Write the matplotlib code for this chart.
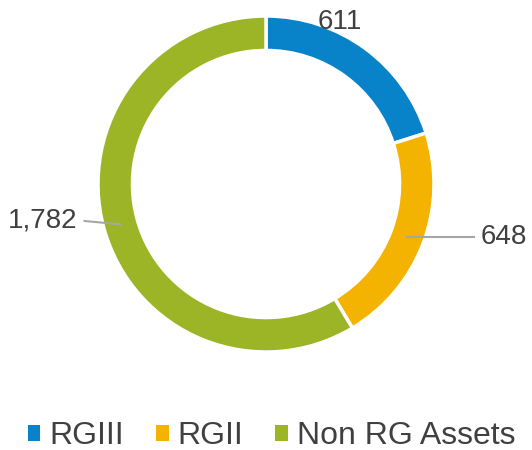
import numpy as np
import matplotlib.pyplot as plt
from matplotlib.patches import Patch

# Chart data
labels = ["RGIII", "RGII", "Non RG Assets"]
values = [611, 648, 1782]
value_text = ["611", "648", "1,782"]
colors = ["#0882C8", "#F3B300", "#9CB526"]

plt.rcParams["font.family"] = ["Liberation Sans", "DejaVu Sans"]
text_color = "#404040"

fig = plt.figure(figsize=(5.32, 4.5), dpi=100)
W, H = 532, 450
# donut centred at (266, 184) px with outer radius 168 px
ax = fig.add_axes([(266 - 168) / W, (H - 184 - 168) / H, 336 / W, 336 / H])

wedges, _ = ax.pie(values, colors=colors, startangle=90, counterclock=False,
                   radius=1.0, wedgeprops=dict(width=0.205, edgecolor="white", linewidth=2.5))
ax.set_xlim(-1, 1)
ax.set_ylim(-1, 1)
ax.set_aspect("equal")
ax.axis("off")

# label placement: (line end x, text x, ha)
label_pos = [None, (1.24, 1.28, "left"), (-1.08, -1.12, "right")]
for i, w in enumerate(wedges):
    mid = np.deg2rad((w.theta1 + w.theta2) / 2)
    x0, y0 = 0.9 * np.cos(mid), 0.9 * np.sin(mid)
    if label_pos[i] is None:
        ax.text(0.44, 0.962, value_text[i], ha="center", va="center",
                fontsize=20, color=text_color, clip_on=False)
        continue
    xe, xt, ha = label_pos[i]
    ye = y0 + (0.02 if xe < 0 else 0.0)
    ax.plot([x0, xe], [y0, ye], color="#A6A6A6", lw=1.5, clip_on=False)
    ax.text(xt, ye, value_text[i], ha=ha, va="center",
            fontsize=20, color=text_color, clip_on=False)

handles = [Patch(facecolor=c, edgecolor="none") for c in colors]
fig.legend(handles, labels, loc="center", bbox_to_anchor=(271.5 / W, 1 - 436 / H),
           ncol=3, frameon=False, fontsize=23, labelcolor=text_color,
           handlelength=0.4, handleheight=0.4, handletextpad=0.28,
           columnspacing=1.0, borderpad=0, borderaxespad=0)

fig.savefig("out.png", dpi=100)
